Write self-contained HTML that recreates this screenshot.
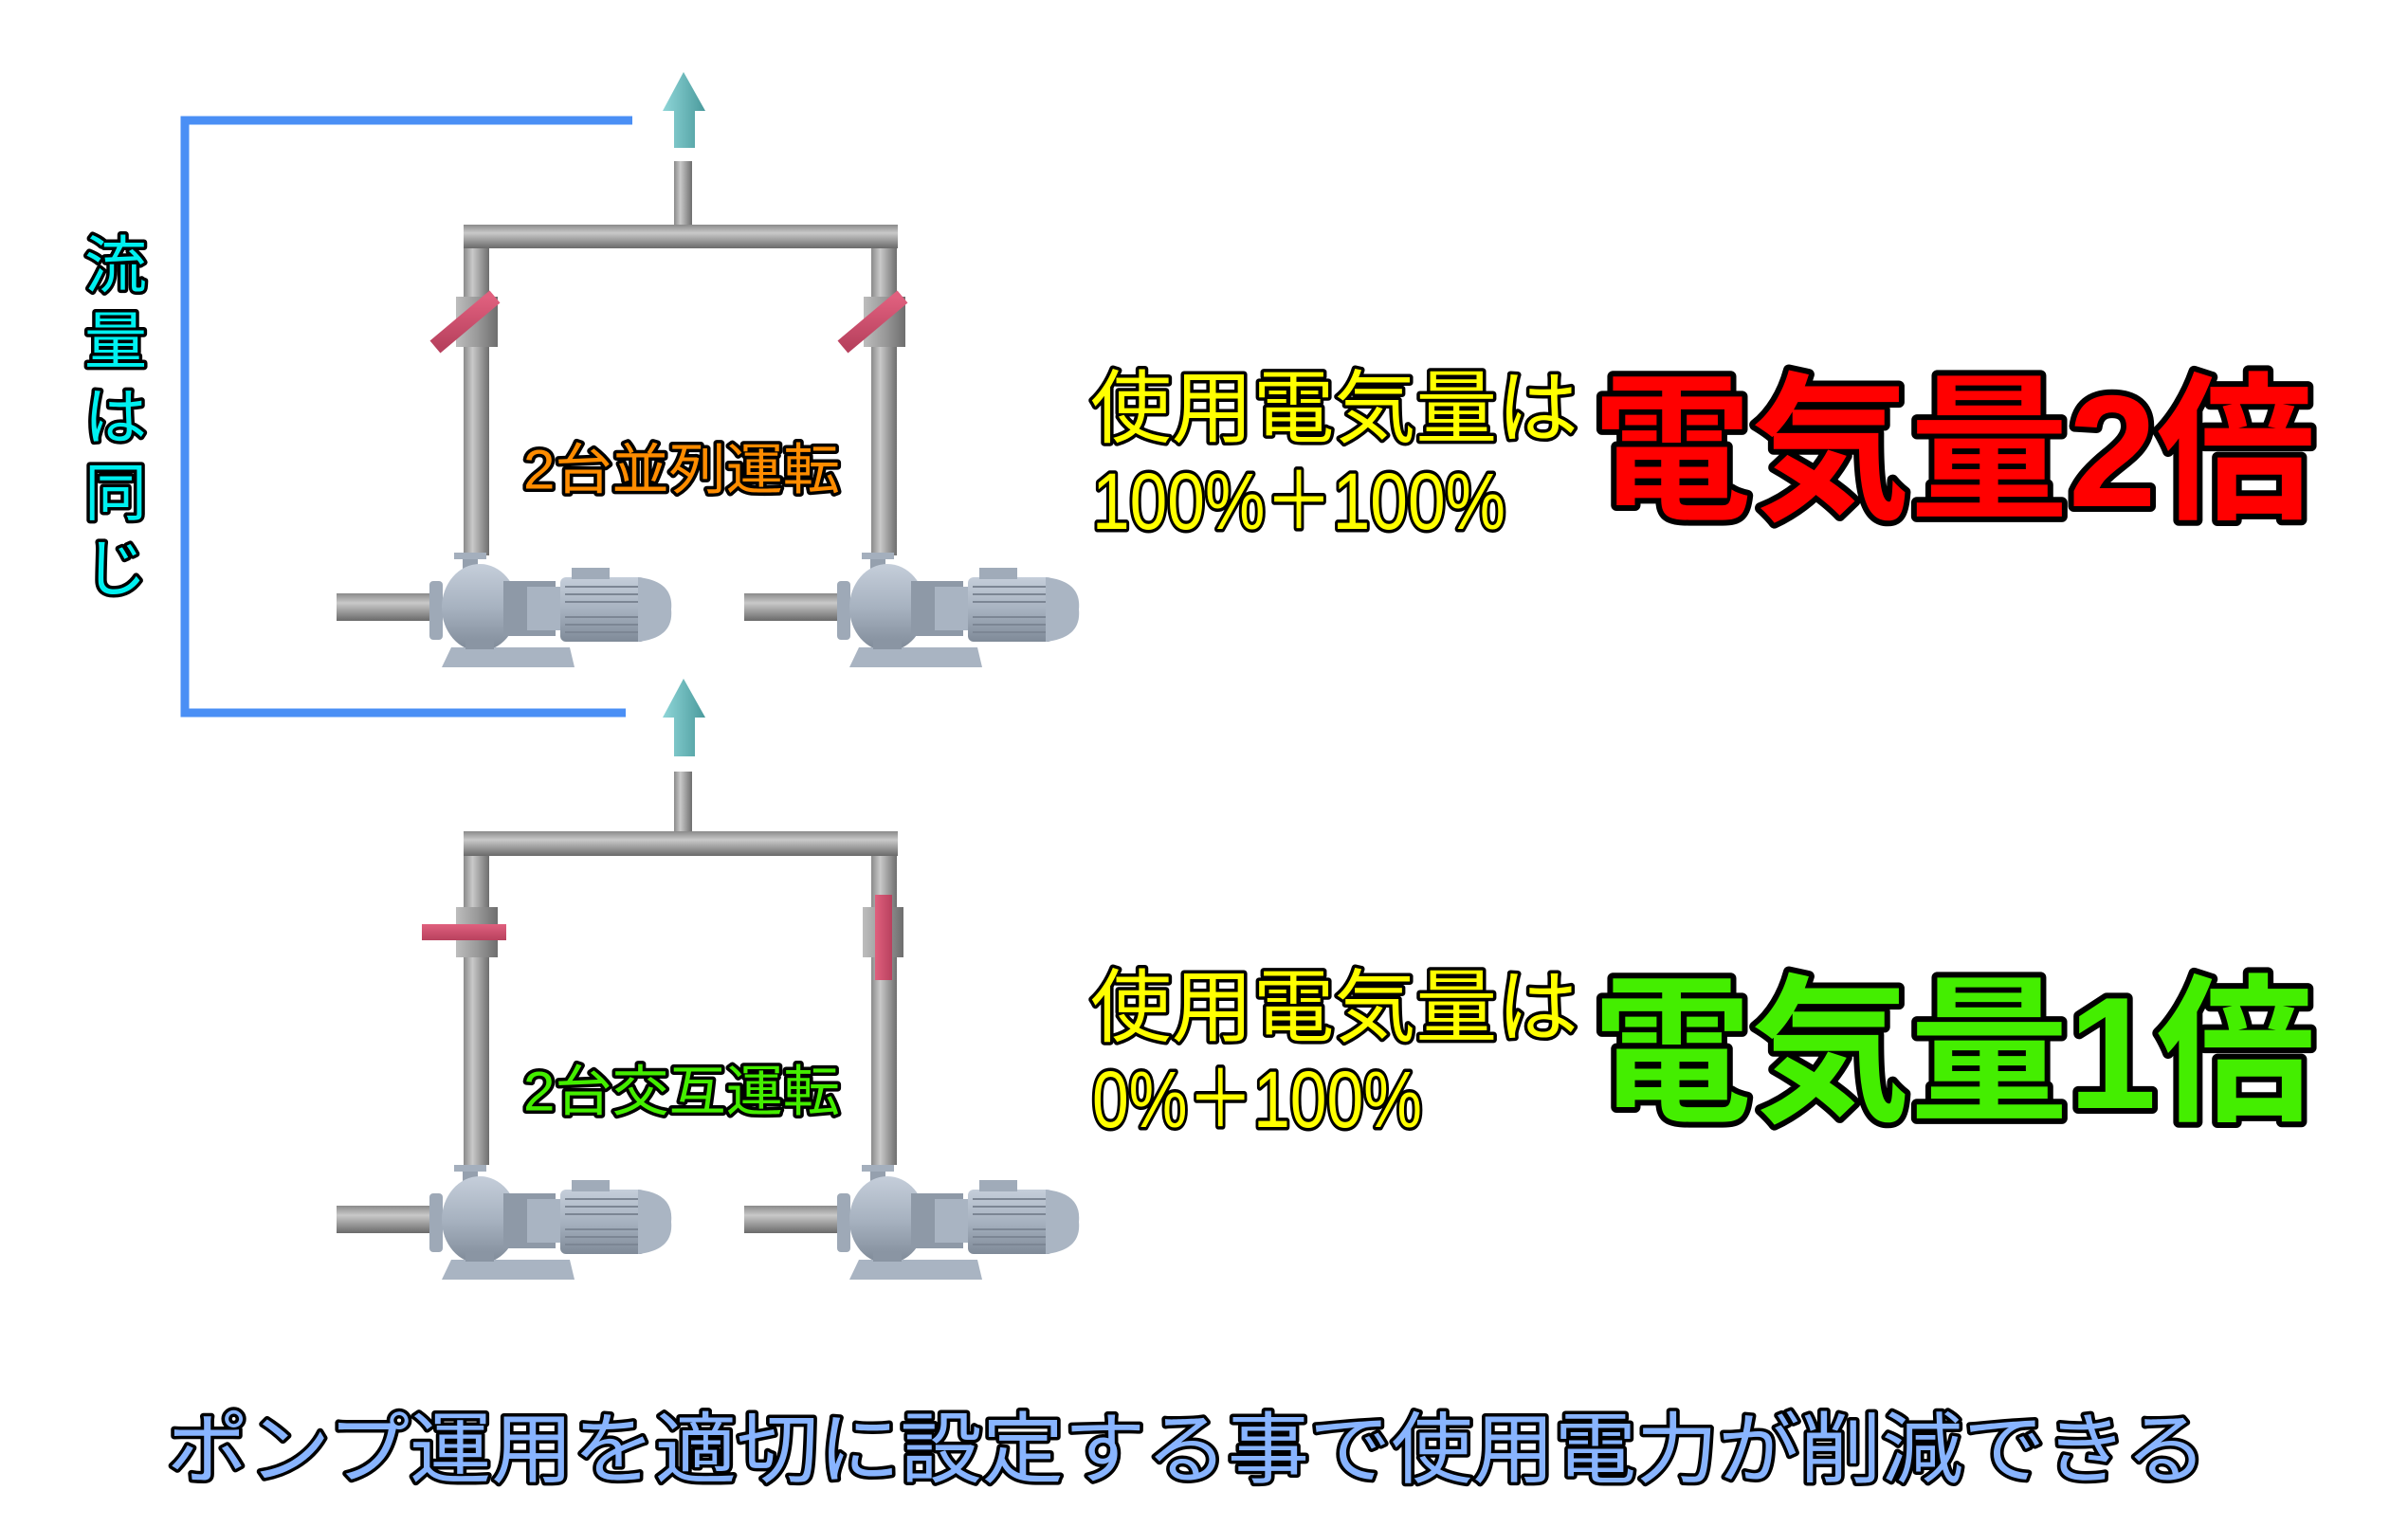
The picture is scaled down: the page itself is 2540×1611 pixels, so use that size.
<!DOCTYPE html>
<html><head><meta charset="utf-8"><style>
html,body{margin:0;padding:0;background:#fff;}
svg{display:block;}
text{font-family:"Liberation Sans","Noto Sans CJK JP",sans-serif;font-weight:normal;paint-order:stroke fill;stroke-linejoin:round;}
text.b{font-weight:bold;}
</style></head><body>
<svg width="2540" height="1611" viewBox="0 0 2540 1611" xmlns="http://www.w3.org/2000/svg">
<defs>
<linearGradient id="pv" x1="0" x2="1" y1="0" y2="0"><stop offset="0" stop-color="#8a8a8a"/><stop offset="0.35" stop-color="#c9c9c9"/><stop offset="1" stop-color="#6e6e6e"/></linearGradient>
<linearGradient id="ph" x1="0" x2="0" y1="0" y2="1"><stop offset="0" stop-color="#8a8a8a"/><stop offset="0.35" stop-color="#c9c9c9"/><stop offset="1" stop-color="#6a6a6a"/></linearGradient>
<linearGradient id="vb" x1="0" x2="1" y1="0" y2="0"><stop offset="0" stop-color="#bdbdbd"/><stop offset="0.5" stop-color="#9a9a9a"/><stop offset="1" stop-color="#6e6e6e"/></linearGradient>
<linearGradient id="ar" x1="0" x2="1" y1="0" y2="0"><stop offset="0" stop-color="#8fd6d8"/><stop offset="1" stop-color="#4a9a9c"/></linearGradient>
<linearGradient id="rd" x1="0" x2="0" y1="0" y2="1"><stop offset="0" stop-color="#e0607e"/><stop offset="1" stop-color="#b8415e"/></linearGradient>
<linearGradient id="rdv" x1="0" x2="1" y1="0" y2="0"><stop offset="0" stop-color="#e0607e"/><stop offset="1" stop-color="#b8415e"/></linearGradient>
<linearGradient id="mt" x1="0" x2="0" y1="0" y2="1"><stop offset="0" stop-color="#c5ceda"/><stop offset="0.5" stop-color="#a7b2c0"/><stop offset="1" stop-color="#7f8a98"/></linearGradient>
<g id="pump">
  <rect x="-106" y="43" width="106" height="29" fill="url(#ph)"/>
  <rect x="-8" y="30" width="14" height="62" rx="4" fill="#9ea9b7"/>
  <rect x="18" y="0" width="34" height="7" fill="#a4afbd"/>
  <rect x="27" y="7" width="16" height="14" fill="#95a0ae"/>
  <ellipse cx="45" cy="58" rx="40" ry="46" fill="url(#mt)"/>
  <rect x="70" y="30" width="55" height="58" fill="#8e99a7"/>
  <rect x="95" y="36" width="40" height="46" fill="#a9b4c2"/>
  <rect x="130" y="26" width="90" height="68" rx="6" fill="url(#mt)"/>
  <g stroke="#7c8694" stroke-width="2">
   <line x1="135" y1="36" x2="215" y2="36"/><line x1="135" y1="44" x2="215" y2="44"/><line x1="135" y1="52" x2="215" y2="52"/><line x1="135" y1="68" x2="215" y2="68"/><line x1="135" y1="76" x2="215" y2="76"/><line x1="135" y1="84" x2="215" y2="84"/>
  </g>
  <rect x="142" y="16" width="40" height="12" fill="#a0abb9"/>
  <path d="M212 26 Q250 30 247 60 Q250 90 212 94 Z" fill="#aab5c3"/>
  <path d="M5 121 L15 100 L140 100 L145 121 Z" fill="#a9b4c2"/>
  <rect x="30" y="92" width="30" height="10" fill="#8a95a3"/>
</g>
</defs>

<polyline points="667,127 195,127 195,752 660,752" fill="none" stroke="#4a8ff5" stroke-width="9"/>

<polygon points="721,76 744,117 733,117 733,156 711,156 711,117 699,117" fill="url(#ar)"/>
<rect x="711" y="170" width="19" height="70" fill="url(#pv)"/>
<rect x="489" y="237" width="458" height="25" fill="url(#ph)"/>
<rect x="489" y="262" width="27" height="324" fill="url(#pv)"/>
<rect x="919" y="262" width="27" height="324" fill="url(#pv)"/>
<rect x="481" y="313" width="44" height="53" fill="url(#vb)"/>
<rect x="911" y="313" width="44" height="53" fill="url(#vb)"/>
<line x1="459" y1="366" x2="522" y2="313" stroke="url(#rd)" stroke-width="17"/>
<line x1="889" y1="366" x2="952" y2="313" stroke="url(#rd)" stroke-width="17"/>
<use href="#pump" transform="translate(461,583)"/>
<use href="#pump" transform="translate(891,583)"/>
<text x="719" y="496" font-size="58" text-anchor="middle" dominant-baseline="central" fill="#ff8c00" stroke="#000" stroke-width="7" textLength="334" lengthAdjust="spacingAndGlyphs">2台並列運転</text>

<polygon points="721,716 744,757 733,757 733,798 711,798 711,757 699,757" fill="url(#ar)"/>
<rect x="711" y="814" width="19" height="64" fill="url(#pv)"/>
<rect x="489" y="877" width="458" height="26" fill="url(#ph)"/>
<rect x="489" y="903" width="27" height="326" fill="url(#pv)"/>
<rect x="919" y="903" width="27" height="326" fill="url(#pv)"/>
<rect x="481" y="957" width="44" height="53" fill="url(#vb)"/>
<rect x="910" y="957" width="43" height="53" fill="url(#vb)"/>
<rect x="445" y="975" width="89" height="17" fill="url(#rd)"/>
<rect x="923" y="944" width="18" height="90" fill="url(#rdv)"/>
<use href="#pump" transform="translate(461,1229)"/>
<use href="#pump" transform="translate(891,1229)"/>
<text x="719" y="1152" font-size="58" text-anchor="middle" dominant-baseline="central" fill="#44ee00" stroke="#000" stroke-width="7" textLength="334" lengthAdjust="spacingAndGlyphs">2台交互運転</text>

<g font-size="66" fill="#00f0f0" stroke="#000" stroke-width="7" text-anchor="middle">
<text x="122" y="280" dominant-baseline="central">流</text>
<text x="122" y="360" dominant-baseline="central">量</text>
<text x="122" y="440" dominant-baseline="central">は</text>
<text x="122" y="520" dominant-baseline="central">同</text>
<text x="122" y="600" dominant-baseline="central">じ</text>
</g>

<g fill="#ffff00" stroke="#000" stroke-width="7" font-size="84">
<text x="1150" y="431" dominant-baseline="central" textLength="515" lengthAdjust="spacingAndGlyphs">使用電気量は</text>
<text x="1152" y="529" dominant-baseline="central" textLength="436" lengthAdjust="spacingAndGlyphs">100%＋100%</text>
<text x="1150" y="1063" dominant-baseline="central" textLength="515" lengthAdjust="spacingAndGlyphs">使用電気量は</text>
<text x="1152" y="1160" dominant-baseline="central" textLength="348" lengthAdjust="spacingAndGlyphs">0%＋100%</text>
</g>
<text class="b" x="1680" y="476" font-size="168" dominant-baseline="central" fill="#ff0000" stroke="#000" stroke-width="12" textLength="762" lengthAdjust="spacingAndGlyphs">電気量2倍</text>
<text class="b" x="1680" y="1111" font-size="168" dominant-baseline="central" fill="#44ee00" stroke="#000" stroke-width="12" textLength="762" lengthAdjust="spacingAndGlyphs">電気量1倍</text>

<text x="176" y="1530" font-size="82" dominant-baseline="central" fill="#88b4ff" stroke="#000" stroke-width="7" textLength="2152" lengthAdjust="spacingAndGlyphs">ポンプ運用を適切に設定する事で使用電力が削減できる</text>
</svg>
</body></html>
